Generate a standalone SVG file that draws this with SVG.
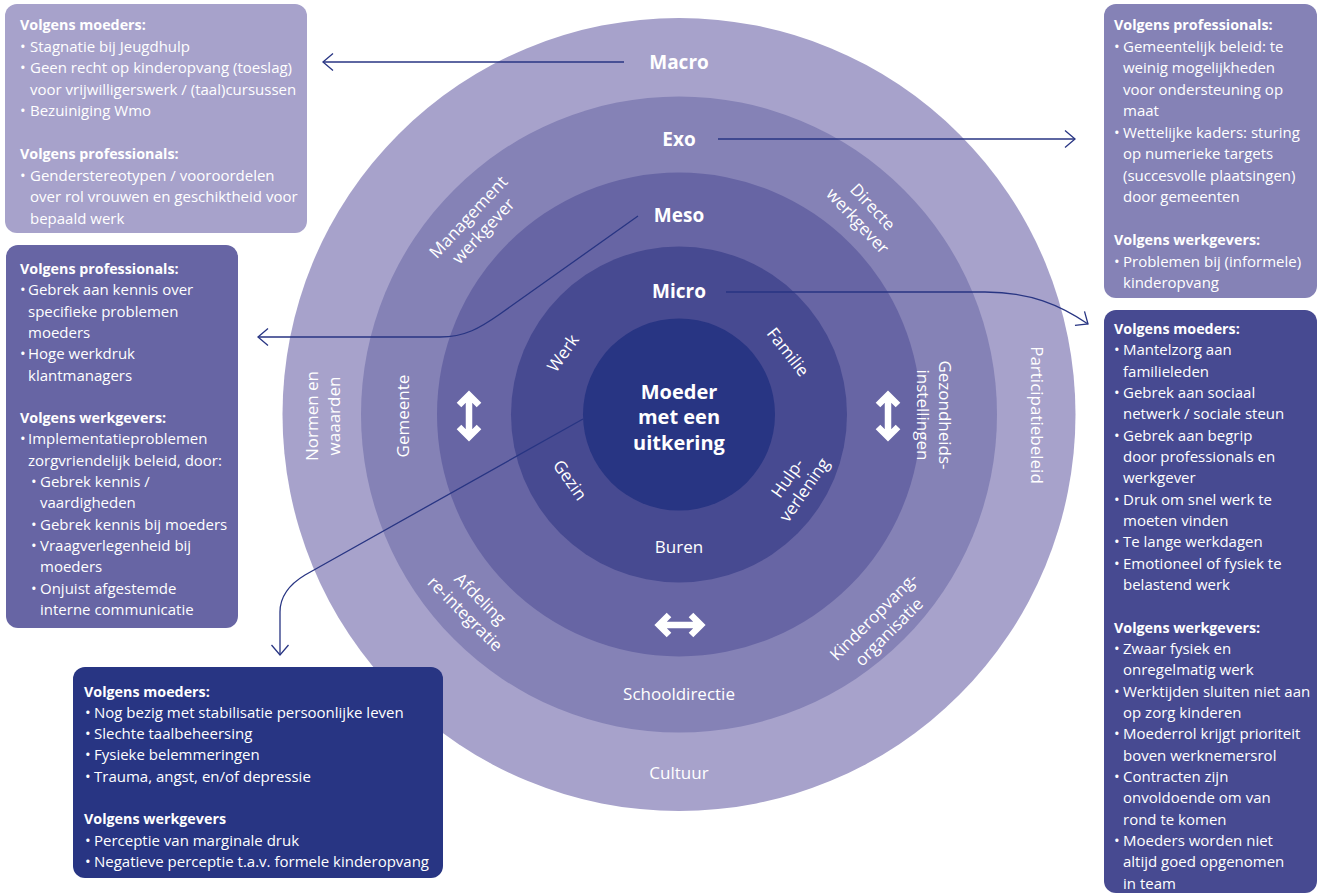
<svg xmlns="http://www.w3.org/2000/svg" width="1318" height="896" viewBox="0 0 1318 896">
<style>
text{font-family:"Open Sans","Liberation Sans",sans-serif;fill:#ffffff}
.b{font-size:15px}
.bt{font-size:14.3px;font-weight:bold}
.lvl{font-size:19px;font-weight:bold;text-anchor:middle}
.lab{font-size:17px;text-anchor:middle}
.ctr{font-size:20px;font-weight:bold;text-anchor:middle}
.con{fill:none;stroke:#283583;stroke-width:1.3}
.dbl{fill:none;stroke:#ffffff;stroke-width:6.5;stroke-linejoin:miter}
</style>
<defs>
<marker id="ah" viewBox="-12 -10 14 20" refX="0" refY="0" markerWidth="14" markerHeight="20" markerUnits="userSpaceOnUse" orient="auto">
<path d="M-10,-8.5 L0,0 L-10,8.5" fill="none" stroke="#283583" stroke-width="1.3"/>
</marker>
<path id="dv" d="M0,-20 V20 M-10,-11 L0,-21 L10,-11 M-10,11 L0,21 L10,11"/>
</defs>

<g id="rings">
<circle id="macro" cx="679" cy="414.5" r="396.5" fill="#a7a2cb"/>
<circle id="exo" cx="679" cy="414.5" r="318" fill="#8582b6"/>
<circle id="meso" cx="679" cy="414.5" r="242" fill="#6765a4"/>
<circle id="micro" cx="679" cy="414.5" r="168" fill="#474a91"/>
<circle id="centre" cx="679" cy="414.5" r="96" fill="#283583"/>
</g>

<g id="ring-labels">
<text class="lvl" x="679" y="68.5">Macro</text>
<text class="lvl" x="679" y="145.5">Exo</text>
<text class="lvl" x="679" y="221.5">Meso</text>
<text class="lvl" x="679" y="297.5">Micro</text>
<text class="ctr" x="679" y="399">Moeder</text>
<text class="ctr" x="679" y="424">met een</text>
<text class="ctr" x="679" y="450">uitkering</text>
<text class="lab" x="679" y="553">Buren</text>
<text class="lab" x="679" y="700">Schooldirectie</text>
<text class="lab" x="679" y="779">Cultuur</text>
<text class="lab" transform="translate(563,353) rotate(-55)" dy="0.35em">Werk</text>
<text class="lab" transform="translate(788,352) rotate(52)" dy="0.35em">Familie</text>
<text class="lab" transform="translate(570,480) rotate(55)" dy="0.35em">Gezin</text>
<text class="lab" transform="translate(796,484) rotate(-55)"><tspan x="0" y="-4.5">Hulp-</tspan><tspan x="0" y="16">verlening</tspan></text>
<text class="lab" transform="translate(476,224) rotate(-47)"><tspan x="0" y="-4.5">Management</tspan><tspan x="0" y="16">werkgever</tspan></text>
<text class="lab" transform="translate(865,214) rotate(47)"><tspan x="0" y="-4.5">Directe</tspan><tspan x="0" y="16">werkgever</tspan></text>
<text class="lab" transform="translate(403,416) rotate(-90)" dy="0.35em">Gemeente</text>
<text class="lab" transform="translate(323,416) rotate(-90)"><tspan x="0" y="-5.5">Normen en</tspan><tspan x="0" y="17">waaarden</tspan></text>
<text class="lab" transform="translate(934,415) rotate(90)"><tspan x="0" y="-4.5">Gezondheids-</tspan><tspan x="0" y="17">instellingen</tspan></text>
<text class="lab" transform="translate(1037,415) rotate(90)" dy="0.35em">Participatiebeleid</text>
<text class="lab" transform="translate(473,606) rotate(45)"><tspan x="0" y="-4.5">Afdeling</tspan><tspan x="0" y="17">re-integratie</tspan></text>
<text class="lab" transform="translate(881,624) rotate(-45)"><tspan x="0" y="-4.5">Kinderopvang-</tspan><tspan x="0" y="17">organisatie</tspan></text>
</g>

<g id="double-arrows">
<use href="#dv" class="dbl" transform="translate(469,416)"/>
<use href="#dv" class="dbl" transform="translate(888,416)"/>
<use href="#dv" class="dbl" transform="translate(680,625) rotate(90)"/>
</g>

<g id="connectors">
<path class="con" marker-end="url(#ah)" d="M624,62 L323,62"/>
<path class="con" marker-end="url(#ah)" d="M718,139 L1075,139"/>
<path class="con" marker-end="url(#ah)" d="M726,292 L985,292 C1030,292 1060,305 1088,324"/>
<path class="con" marker-end="url(#ah)" d="M638,216 L500,314 C480,328 465,337 440,337 L258,337"/>
<path class="con" marker-end="url(#ah)" d="M583,419 L305,575 C290,584 280,595 280,612 L280,655"/>
</g>

<g id="box-macro">
<rect x="5" y="4" width="302" height="229" rx="12" fill="#a7a2cb"/>
<text class="bt" x="20" y="30">Volgens moeders:</text>
<text class="b" x="20" y="51.5">•</text><text class="b" x="30" y="51.5">Stagnatie bij Jeugdhulp</text>
<text class="b" x="20" y="73">•</text><text class="b" x="30" y="73">Geen recht op kinderopvang (toeslag)</text>
<text class="b" x="30" y="94.5">voor vrijwilligerswerk / (taal)cursussen</text>
<text class="b" x="20" y="116">•</text><text class="b" x="30" y="116">Bezuiniging Wmo</text>
<text class="bt" x="20" y="159">Volgens professionals:</text>
<text class="b" x="20" y="180.5">•</text><text class="b" x="30" y="180.5">Genderstereotypen / vooroordelen</text>
<text class="b" x="30" y="202">over rol vrouwen en geschiktheid voor</text>
<text class="b" x="30" y="223.5">bepaald werk</text>
</g>

<g id="box-meso">
<rect x="6" y="245" width="232" height="383" rx="12" fill="#6765a4"/>
<text class="bt" x="20" y="274">Volgens professionals:</text>
<text class="b" x="20" y="295.3">•</text><text class="b" x="28" y="295.3">Gebrek aan kennis over</text>
<text class="b" x="28" y="316.6">specifieke problemen</text>
<text class="b" x="28" y="337.9">moeders</text>
<text class="b" x="20" y="359.2">•</text><text class="b" x="28" y="359.2">Hoge werkdruk</text>
<text class="b" x="28" y="380.5">klantmanagers</text>
<text class="bt" x="20" y="423.1">Volgens werkgevers:</text>
<text class="b" x="20" y="444.4">•</text><text class="b" x="28" y="444.4">Implementatieproblemen</text>
<text class="b" x="28" y="465.7">zorgvriendelijk beleid, door:</text>
<text class="b" x="31" y="487">•</text><text class="b" x="40" y="487">Gebrek kennis /</text>
<text class="b" x="40" y="508.3">vaardigheden</text>
<text class="b" x="31" y="529.6">•</text><text class="b" x="40" y="529.6">Gebrek kennis bij moeders</text>
<text class="b" x="31" y="550.9">•</text><text class="b" x="40" y="550.9">Vraagverlegenheid bij</text>
<text class="b" x="40" y="572.2">moeders</text>
<text class="b" x="31" y="593.5">•</text><text class="b" x="40" y="593.5">Onjuist afgestemde</text>
<text class="b" x="40" y="614.8">interne communicatie</text>
</g>

<g id="box-exo">
<rect x="1104" y="4" width="213" height="294" rx="12" fill="#8582b6"/>
<text class="bt" x="1114" y="30">Volgens professionals:</text>
<text class="b" x="1114" y="51.5">•</text><text class="b" x="1123" y="51.5">Gemeentelijk beleid: te</text>
<text class="b" x="1123" y="73">weinig mogelijkheden</text>
<text class="b" x="1123" y="94.5">voor ondersteuning op</text>
<text class="b" x="1123" y="116">maat</text>
<text class="b" x="1114" y="137.5">•</text><text class="b" x="1123" y="137.5">Wettelijke kaders: sturing</text>
<text class="b" x="1123" y="159">op numerieke targets</text>
<text class="b" x="1123" y="180.5">(succesvolle plaatsingen)</text>
<text class="b" x="1123" y="202">door gemeenten</text>
<text class="bt" x="1114" y="245">Volgens werkgevers:</text>
<text class="b" x="1114" y="266.5">•</text><text class="b" x="1123" y="266.5">Problemen bij (informele)</text>
<text class="b" x="1123" y="288">kinderopvang</text>
</g>

<g id="box-micro">
<rect x="1104" y="310" width="213" height="583" rx="12" fill="#474a91"/>
<text class="bt" x="1114" y="334">Volgens moeders:</text>
<text class="b" x="1114" y="355.3">•</text><text class="b" x="1123" y="355.3">Mantelzorg aan</text>
<text class="b" x="1123" y="376.7">familieleden</text>
<text class="b" x="1114" y="398">•</text><text class="b" x="1123" y="398">Gebrek aan sociaal</text>
<text class="b" x="1123" y="419.3">netwerk / sociale steun</text>
<text class="b" x="1114" y="440.7">•</text><text class="b" x="1123" y="440.7">Gebrek aan begrip</text>
<text class="b" x="1123" y="462">door professionals en</text>
<text class="b" x="1123" y="483.3">werkgever</text>
<text class="b" x="1114" y="504.6">•</text><text class="b" x="1123" y="504.6">Druk om snel werk te</text>
<text class="b" x="1123" y="526">moeten vinden</text>
<text class="b" x="1114" y="547.3">•</text><text class="b" x="1123" y="547.3">Te lange werkdagen</text>
<text class="b" x="1114" y="568.6">•</text><text class="b" x="1123" y="568.6">Emotioneel of fysiek te</text>
<text class="b" x="1123" y="590">belastend werk</text>
<text class="bt" x="1114" y="632.6">Volgens werkgevers:</text>
<text class="b" x="1114" y="654">•</text><text class="b" x="1123" y="654">Zwaar fysiek en</text>
<text class="b" x="1123" y="675.3">onregelmatig werk</text>
<text class="b" x="1114" y="696.6">•</text><text class="b" x="1123" y="696.6">Werktijden sluiten niet aan</text>
<text class="b" x="1123" y="718">op zorg kinderen</text>
<text class="b" x="1114" y="739.3">•</text><text class="b" x="1123" y="739.3">Moederrol krijgt prioriteit</text>
<text class="b" x="1123" y="760.6">boven werknemersrol</text>
<text class="b" x="1114" y="782">•</text><text class="b" x="1123" y="782">Contracten zijn</text>
<text class="b" x="1123" y="803.3">onvoldoende om van</text>
<text class="b" x="1123" y="824.6">rond te komen</text>
<text class="b" x="1114" y="846">•</text><text class="b" x="1123" y="846">Moeders worden niet</text>
<text class="b" x="1123" y="867.3">altijd goed opgenomen</text>
<text class="b" x="1123" y="888.6">in team</text>
</g>

<g id="box-centre">
<rect x="73" y="667" width="370" height="211" rx="12" fill="#283583"/>
<text class="bt" x="84" y="696.5">Volgens moeders:</text>
<text class="b" x="85" y="717.8">•</text><text class="b" x="94" y="717.8">Nog bezig met stabilisatie persoonlijke leven</text>
<text class="b" x="85" y="739.1">•</text><text class="b" x="94" y="739.1">Slechte taalbeheersing</text>
<text class="b" x="85" y="760.4">•</text><text class="b" x="94" y="760.4">Fysieke belemmeringen</text>
<text class="b" x="85" y="781.7">•</text><text class="b" x="94" y="781.7">Trauma, angst, en/of depressie</text>
<text class="bt" x="84" y="824.3">Volgens werkgevers</text>
<text class="b" x="85" y="845.6">•</text><text class="b" x="94" y="845.6">Perceptie van marginale druk</text>
<text class="b" x="85" y="866.9">•</text><text class="b" x="94" y="866.9">Negatieve perceptie t.a.v. formele kinderopvang</text>
</g>
</svg>
